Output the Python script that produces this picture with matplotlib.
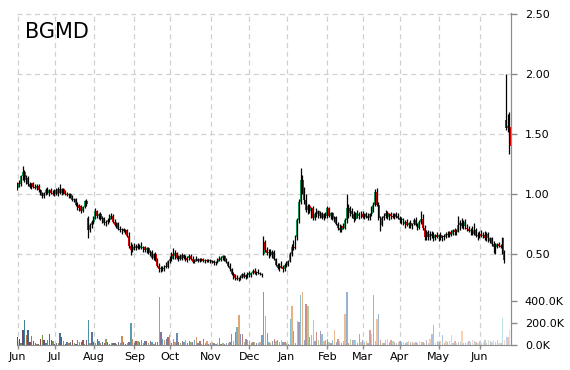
import matplotlib
matplotlib.use("Agg")
import matplotlib.pyplot as plt
from matplotlib.colors import to_rgba
import numpy as np
import pandas as pd

symbol = "BGMD"
dates = pd.bdate_range("2012-06-01", "2013-06-26")

# daily OHLC, one line per month (Jun 2012 .. Jun 2013)
opens = [
    1.05, 1.09, 1.08, 1.15, 1.18, 1.12, 1.13, 1.08, 1.06, 1.09, 1.06, 1.05, 1.07, 1.03, 1.00, 0.98, 1.01, 1.03, 1.01, 1.03, 1.01,
    1.00, 1.03, 1.00, 1.04, 1.01, 1.04, 1.01, 1.00, 0.99, 1.00, 0.98, 0.95, 0.96, 0.91, 0.88, 0.90, 0.86, 0.89, 0.94, 0.80, 0.70, 0.74,
    0.77, 0.80, 0.86, 0.82, 0.83, 0.79, 0.80, 0.76, 0.77, 0.78, 0.81, 0.82, 0.77, 0.74, 0.76, 0.71, 0.70, 0.71, 0.69, 0.70, 0.65, 0.57, 0.53,
    0.56, 0.55, 0.57, 0.55, 0.57, 0.55, 0.56, 0.53, 0.55, 0.51, 0.52, 0.47, 0.50, 0.45, 0.40, 0.37, 0.38, 0.37, 0.40, 0.39,
    0.44, 0.46, 0.50, 0.48, 0.51, 0.47, 0.48, 0.46, 0.49, 0.47, 0.45, 0.47, 0.48, 0.46, 0.43, 0.45, 0.46, 0.44, 0.46, 0.45, 0.44, 0.45, 0.44,
    0.45, 0.43, 0.44, 0.42, 0.43, 0.46, 0.45, 0.47, 0.48, 0.45, 0.43, 0.40, 0.37, 0.33, 0.31, 0.30, 0.29, 0.30, 0.31, 0.33, 0.31, 0.32,
    0.34, 0.32, 0.34, 0.36, 0.34, 0.35, 0.34, 0.33, 0.50, 0.60, 0.53, 0.51, 0.52, 0.49, 0.52, 0.46, 0.41, 0.38, 0.40, 0.39, 0.37,
    0.41, 0.42, 0.44, 0.50, 0.56, 0.55, 0.64, 0.78, 0.93, 1.12, 1.03, 0.95, 0.87, 0.90, 0.86, 0.88, 0.80, 0.83, 0.86, 0.82, 0.84, 0.80, 0.83,
    0.82, 0.88, 0.82, 0.84, 0.79, 0.81, 0.75, 0.72, 0.70, 0.73, 0.72, 0.78, 0.88, 0.84, 0.86, 0.83, 0.79, 0.84, 0.82, 0.83,
    0.83, 0.81, 0.83, 0.82, 0.80, 0.83, 0.88, 0.91, 1.02, 0.91, 0.80, 0.74, 0.80, 0.82, 0.84, 0.81, 0.83, 0.82, 0.81, 0.83, 0.82,
    0.80, 0.78, 0.79, 0.75, 0.77, 0.74, 0.76, 0.73, 0.75, 0.78, 0.74, 0.72, 0.77, 0.79, 0.72, 0.64, 0.68, 0.64, 0.67, 0.65, 0.63, 0.66,
    0.64, 0.66, 0.63, 0.65, 0.64, 0.67, 0.66, 0.68, 0.67, 0.70, 0.68, 0.70, 0.74, 0.76, 0.73, 0.77, 0.72, 0.71, 0.69, 0.70, 0.67, 0.70, 0.65,
    0.66, 0.67, 0.65, 0.66, 0.63, 0.67, 0.61, 0.63, 0.58, 0.56, 0.57, 0.58, 0.57, 0.63, 0.52, 1.62, 1.55, 1.56,
]
highs = [
    1.10, 1.12, 1.16, 1.23, 1.20, 1.16, 1.15, 1.10, 1.09, 1.10, 1.08, 1.08, 1.08, 1.04, 1.02, 1.02, 1.05, 1.06, 1.04, 1.05, 1.03,
    1.04, 1.05, 1.06, 1.08, 1.05, 1.05, 1.03, 1.02, 1.01, 1.01, 0.99, 0.97, 0.97, 0.93, 0.92, 0.91, 0.90, 0.95, 0.96, 0.82, 0.76, 0.78,
    0.82, 0.88, 0.87, 0.84, 0.85, 0.82, 0.81, 0.78, 0.80, 0.83, 0.84, 0.83, 0.79, 0.77, 0.77, 0.73, 0.72, 0.72, 0.71, 0.71, 0.68, 0.60, 0.58,
    0.59, 0.58, 0.59, 0.58, 0.60, 0.57, 0.57, 0.56, 0.56, 0.53, 0.53, 0.51, 0.52, 0.47, 0.42, 0.40, 0.40, 0.41, 0.43, 0.45,
    0.48, 0.52, 0.55, 0.53, 0.52, 0.49, 0.50, 0.51, 0.50, 0.49, 0.48, 0.50, 0.50, 0.48, 0.46, 0.48, 0.47, 0.47, 0.47, 0.47, 0.46, 0.46, 0.46,
    0.46, 0.45, 0.45, 0.44, 0.47, 0.48, 0.48, 0.49, 0.49, 0.47, 0.44, 0.42, 0.38, 0.35, 0.33, 0.32, 0.31, 0.32, 0.34, 0.35, 0.33, 0.35,
    0.36, 0.35, 0.37, 0.38, 0.36, 0.37, 0.35, 0.34, 0.65, 0.62, 0.56, 0.54, 0.54, 0.53, 0.53, 0.47, 0.42, 0.42, 0.44, 0.41, 0.42,
    0.44, 0.45, 0.52, 0.58, 0.62, 0.66, 0.80, 0.96, 1.22, 1.16, 1.06, 1.00, 0.92, 0.92, 0.89, 0.90, 0.85, 0.88, 0.87, 0.86, 0.85, 0.84, 0.85,
    0.90, 0.89, 0.85, 0.85, 0.82, 0.82, 0.77, 0.75, 0.74, 0.76, 0.80, 1.00, 0.92, 0.90, 0.88, 0.86, 0.85, 0.87, 0.85, 0.86,
    0.86, 0.84, 0.85, 0.84, 0.84, 0.90, 0.93, 1.04, 1.05, 0.93, 0.82, 0.82, 0.84, 0.87, 0.86, 0.84, 0.85, 0.84, 0.84, 0.85, 0.84,
    0.82, 0.81, 0.80, 0.78, 0.79, 0.77, 0.78, 0.76, 0.80, 0.81, 0.76, 0.78, 0.86, 0.83, 0.74, 0.70, 0.70, 0.69, 0.69, 0.68, 0.67, 0.68,
    0.67, 0.68, 0.66, 0.67, 0.68, 0.69, 0.69, 0.70, 0.71, 0.72, 0.71, 0.82, 0.78, 0.80, 0.78, 0.79, 0.75, 0.73, 0.72, 0.73, 0.76, 0.72, 0.68,
    0.69, 0.70, 0.68, 0.69, 0.68, 0.68, 0.64, 0.64, 0.61, 0.59, 0.59, 0.60, 0.58, 0.64, 0.53, 2.00, 1.67, 1.68,
]
lows = [
    1.03, 1.06, 1.07, 1.12, 1.10, 1.08, 1.07, 1.05, 1.04, 1.05, 1.04, 1.03, 1.02, 0.99, 0.97, 0.97, 0.99, 1.00, 0.98, 1.00, 0.99,
    0.98, 0.99, 0.98, 1.00, 0.99, 1.00, 0.99, 0.98, 0.97, 0.97, 0.94, 0.93, 0.90, 0.87, 0.86, 0.84, 0.85, 0.88, 0.90, 0.63, 0.68, 0.72,
    0.75, 0.79, 0.80, 0.79, 0.78, 0.76, 0.74, 0.73, 0.75, 0.77, 0.79, 0.76, 0.73, 0.72, 0.70, 0.68, 0.67, 0.68, 0.67, 0.64, 0.55, 0.49, 0.52,
    0.53, 0.53, 0.54, 0.54, 0.54, 0.52, 0.52, 0.51, 0.50, 0.48, 0.46, 0.45, 0.44, 0.39, 0.35, 0.35, 0.36, 0.36, 0.38, 0.38,
    0.42, 0.44, 0.46, 0.46, 0.46, 0.44, 0.45, 0.45, 0.46, 0.44, 0.43, 0.45, 0.45, 0.42, 0.42, 0.44, 0.43, 0.43, 0.44, 0.43, 0.42, 0.43, 0.43,
    0.42, 0.42, 0.41, 0.41, 0.42, 0.44, 0.44, 0.45, 0.44, 0.42, 0.39, 0.36, 0.32, 0.29, 0.28, 0.28, 0.27, 0.28, 0.30, 0.30, 0.29, 0.30,
    0.31, 0.31, 0.33, 0.33, 0.32, 0.33, 0.32, 0.31, 0.49, 0.52, 0.49, 0.47, 0.48, 0.47, 0.45, 0.40, 0.37, 0.36, 0.38, 0.35, 0.36,
    0.39, 0.40, 0.43, 0.48, 0.53, 0.54, 0.62, 0.76, 0.92, 1.00, 0.92, 0.85, 0.83, 0.84, 0.80, 0.78, 0.78, 0.81, 0.80, 0.80, 0.79, 0.78, 0.80,
    0.80, 0.81, 0.79, 0.78, 0.77, 0.74, 0.70, 0.68, 0.68, 0.71, 0.71, 0.76, 0.80, 0.82, 0.80, 0.77, 0.78, 0.80, 0.79, 0.80,
    0.80, 0.79, 0.80, 0.78, 0.78, 0.82, 0.85, 0.90, 0.90, 0.78, 0.69, 0.73, 0.78, 0.80, 0.79, 0.78, 0.79, 0.80, 0.79, 0.80, 0.79,
    0.76, 0.75, 0.74, 0.72, 0.73, 0.72, 0.72, 0.71, 0.74, 0.73, 0.70, 0.71, 0.75, 0.70, 0.62, 0.62, 0.62, 0.62, 0.63, 0.61, 0.62, 0.63,
    0.61, 0.62, 0.61, 0.62, 0.63, 0.64, 0.64, 0.65, 0.66, 0.66, 0.66, 0.68, 0.70, 0.72, 0.71, 0.71, 0.69, 0.68, 0.66, 0.66, 0.66, 0.64, 0.62,
    0.63, 0.64, 0.63, 0.62, 0.61, 0.60, 0.59, 0.57, 0.51, 0.50, 0.55, 0.56, 0.55, 0.50, 0.42, 1.53, 1.52, 1.33,
]
closes = [
    1.09, 1.08, 1.15, 1.18, 1.12, 1.14, 1.08, 1.06, 1.09, 1.06, 1.05, 1.07, 1.03, 1.00, 0.98, 1.01, 1.03, 1.01, 1.03, 1.01, 1.00,
    1.03, 1.00, 1.04, 1.01, 1.04, 1.01, 1.00, 0.99, 1.00, 0.98, 0.95, 0.96, 0.91, 0.88, 0.90, 0.86, 0.89, 0.94, 0.92, 0.70, 0.74, 0.77,
    0.80, 0.86, 0.82, 0.83, 0.79, 0.80, 0.76, 0.77, 0.78, 0.81, 0.82, 0.77, 0.74, 0.76, 0.71, 0.70, 0.71, 0.69, 0.70, 0.65, 0.57, 0.53, 0.56,
    0.55, 0.57, 0.55, 0.57, 0.55, 0.56, 0.53, 0.55, 0.51, 0.52, 0.47, 0.50, 0.45, 0.40, 0.37, 0.38, 0.37, 0.40, 0.39, 0.44,
    0.46, 0.50, 0.48, 0.51, 0.47, 0.48, 0.46, 0.49, 0.47, 0.45, 0.47, 0.48, 0.46, 0.43, 0.45, 0.46, 0.44, 0.46, 0.45, 0.44, 0.45, 0.44, 0.45,
    0.43, 0.44, 0.42, 0.43, 0.46, 0.45, 0.47, 0.48, 0.45, 0.43, 0.40, 0.37, 0.33, 0.31, 0.30, 0.29, 0.30, 0.31, 0.33, 0.31, 0.32, 0.34,
    0.32, 0.34, 0.36, 0.34, 0.35, 0.34, 0.33, 0.32, 0.60, 0.53, 0.51, 0.52, 0.49, 0.52, 0.46, 0.41, 0.38, 0.40, 0.39, 0.37, 0.41,
    0.42, 0.44, 0.50, 0.56, 0.55, 0.64, 0.78, 0.93, 1.12, 1.03, 0.95, 0.87, 0.90, 0.86, 0.88, 0.80, 0.83, 0.86, 0.82, 0.84, 0.80, 0.83, 0.82,
    0.88, 0.82, 0.84, 0.79, 0.81, 0.75, 0.72, 0.70, 0.73, 0.72, 0.78, 0.88, 0.84, 0.86, 0.83, 0.79, 0.84, 0.82, 0.83, 0.83,
    0.81, 0.83, 0.82, 0.80, 0.83, 0.88, 0.91, 1.02, 0.91, 0.80, 0.74, 0.80, 0.82, 0.84, 0.81, 0.83, 0.82, 0.81, 0.83, 0.82, 0.80,
    0.78, 0.79, 0.75, 0.77, 0.74, 0.76, 0.73, 0.75, 0.78, 0.74, 0.72, 0.77, 0.79, 0.72, 0.64, 0.68, 0.64, 0.67, 0.65, 0.63, 0.66, 0.64,
    0.66, 0.63, 0.65, 0.64, 0.67, 0.66, 0.68, 0.67, 0.70, 0.68, 0.70, 0.74, 0.76, 0.73, 0.77, 0.72, 0.71, 0.69, 0.70, 0.67, 0.70, 0.65, 0.66,
    0.67, 0.65, 0.66, 0.63, 0.67, 0.61, 0.63, 0.58, 0.56, 0.57, 0.58, 0.57, 0.56, 0.52, 0.45, 1.55, 1.57, 1.40,
]
# daily volume, thousands of shares
volumes_k = [
    74, 59, 20, 139, 228, 89, 139, 30, 80, 35, 20, 10, 12, 59, 89, 50, 15, 44, 98, 44, 35,
    12, 15, 20, 110, 74, 35, 10, 25, 20, 30, 50, 15, 12, 44, 30, 25, 44, 12, 44, 228, 15, 118,
    30, 20, 59, 35, 15, 25, 20, 59, 30, 12, 20, 20, 20, 10, 30, 15, 80, 30, 12, 20, 30, 198, 59,
    15, 35, 40, 30, 44, 20, 35, 40, 15, 35, 30, 12, 30, 25, 444, 118, 59, 50, 59, 74,
    89, 20, 59, 25, 110, 30, 15, 35, 25, 44, 20, 40, 30, 25, 44, 74, 20, 35, 12, 56, 20, 35, 10,
    15, 30, 20, 10, 15, 65, 12, 15, 10, 15, 20, 30, 98, 40, 118, 163, 275, 104, 104, 30, 59, 44,
    35, 15, 25, 30, 15, 20, 30, 89, 488, 266, 110, 30, 20, 40, 59, 35, 50, 30, 44, 25, 30,
    15, 9, 237, 355, 127, 15, 222, 207, 459, 488, 44, 376, 355, 74, 89, 228, 40, 118, 50, 133, 104, 35, 44,
    59, 30, 20, 44, 139, 30, 59, 40, 20, 35, 281, 488, 20, 59, 44, 50, 44, 20, 104, 25,
    44, 30, 35, 20, 139, 104, 459, 40, 237, 281, 44, 20, 15, 44, 59, 30, 44, 35, 30, 15, 30,
    35, 25, 30, 20, 30, 35, 25, 30, 20, 30, 20, 35, 25, 30, 15, 44, 20, 59, 104, 184, 15, 35,
    30, 35, 89, 15, 35, 30, 35, 89, 15, 35, 20, 30, 25, 133, 15, 20, 30, 40, 30, 44, 35, 30, 20,
    40, 15, 30, 50, 20, 44, 35, 25, 50, 30, 44, 20, 15, 252, 44, 74, 74, 139,
]

price_ticks = [0.5, 1.0, 1.5, 2.0, 2.5]
volume_ticks_k = [0, 200, 400]
volume_palette = ["#4F81BD", "#C0504D", "#9BBB59", "#8064A2", "#4BACC6", "#F79646"]

UP = "#12A85E"
DOWN = "#FF0000"
AXIS = "#8C8C8C"
GRID = "#D0D0D0"


def main():
    n = len(dates)
    x = np.arange(n)
    o = np.array(opens)
    h = np.array(highs)
    lo = np.array(lows)
    c = np.array(closes)
    vol = np.array(volumes_k) * 1000.0

    fig = plt.figure(figsize=(5.7, 3.7), dpi=100)
    rect = [17 / 570, 25 / 370, 494 / 570, 332 / 370]
    ax_vol = fig.add_axes(rect)
    ax = fig.add_axes(rect, sharex=ax_vol)
    ax.patch.set_visible(False)

    # volume bars: darker at the start, fading towards the end
    alphas = np.linspace(1.0, 0.35, n)
    shade = np.linspace(0.75, 1.0, n)
    vcolors = []
    for i in range(n):
        r, g, b, _ = to_rgba(volume_palette[i % len(volume_palette)])
        vcolors.append((r * shade[i], g * shade[i], b * shade[i], alphas[i]))
    ax_vol.bar(x, vol, width=0.75, color=vcolors, linewidth=0, zorder=2)
    ax_vol.set_ylim(0, 3050e3)
    ax_vol.set_yticks([v * 1000 for v in volume_ticks_k])
    ax_vol.set_yticklabels([f"{v:.1f}K" for v in volume_ticks_k])

    # month ticks on first trading day of each month
    month_pos = [i for i in range(n) if i == 0 or dates[i].month != dates[i - 1].month]
    ax_vol.set_xticks(month_pos)
    ax_vol.set_xticklabels([dates[i].strftime("%b") for i in month_pos])
    ax_vol.set_xlim(-0.3, n - 0.3)
    ax_vol.grid(axis="x", color=GRID, linestyle=(0, (4, 3)), linewidth=0.9)
    ax_vol.set_axisbelow(True)

    # candles
    up = c >= o
    body_lo = np.minimum(o, c)
    body_h = np.maximum(np.abs(c - o), 0.006)
    ax.bar(x, body_h, bottom=body_lo, width=1.1,
           color=np.where(up, UP, DOWN), linewidth=0, zorder=3)
    ax.vlines(x - 0.15, lo, h, color="black", linewidth=0.9, zorder=4)

    ax.set_ylim(-0.26, 2.51)
    ax.set_yticks(price_ticks)
    ax.set_yticklabels([f"{p:.2f}" for p in price_ticks])
    ax.grid(axis="y", color=GRID, linestyle=(0, (4, 3)), linewidth=0.9)
    ax.set_axisbelow(True)
    ax.tick_params(axis="x", bottom=False, labelbottom=False)
    for lab in ax.get_yticklabels():
        lab.set_bbox(dict(boxstyle="square,pad=0.15", facecolor="#EEEBDE", edgecolor="none"))

    for a in (ax, ax_vol):
        a.yaxis.tick_right()
        a.tick_params(axis="y", length=4, width=1, color=AXIS, pad=6, labelsize=8)
        for s in ("left", "top"):
            a.spines[s].set_visible(False)
        a.spines["right"].set_color(AXIS)
        a.spines["bottom"].set_color(AXIS)
    ax.spines["bottom"].set_visible(False)
    ax_vol.tick_params(axis="x", length=3, width=1, color=AXIS, pad=2, labelsize=8)

    ax.text(0.016, 0.925, symbol, transform=ax.transAxes, fontsize=15,
            ha="left", va="baseline", color="black")

    fig.savefig("out.png", dpi=100)
    plt.close(fig)


if __name__ == "__main__":
    main()
